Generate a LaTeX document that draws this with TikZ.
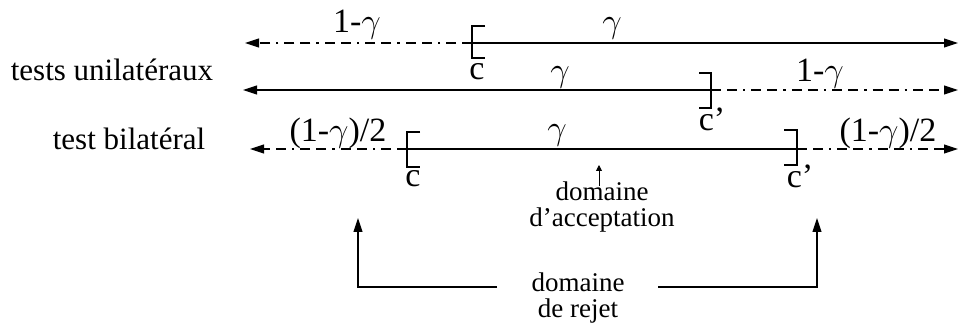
\documentclass[tikz,border=0pt]{standalone}
\usepackage{fontspec}
\setmainfont{Liberation Serif}
\usetikzlibrary{arrows.meta,positioning}
\tikzset{
  ln/.style={line width=0.55pt},
  ar/.style={ln,-{Triangle[length=7pt,width=4.5pt]}},
  dd/.style={ar,dash pattern=on 5pt off 3pt on 5pt off 3pt on 1.2pt off 3pt},
  sar/.style={line width=0.45pt,-{Triangle[length=3pt,width=3pt]}},
  brk/.style={line width=0.55pt},
  lab/.style={font=\fontsize{17}{20}\selectfont,inner sep=0pt,anchor=base},
  side/.style={font=\fontsize{15.5}{18}\selectfont,inner sep=0pt,anchor=base},
  dom/.style={font=\fontsize{13.5}{12.8}\selectfont,align=center,inner sep=0pt}
}
\newcommand\gam{\ensuremath{\gamma}}
\begin{document}
\begin{tikzpicture}[x=0.5pt,y=-0.5pt]
\useasboundingbox (0,0) rectangle (960,326);
% side labels
\node[side] (uni) at (112,81) {tests unilatéraux};
\node[side] (bil) at (129,150) {test bilatéral};
% first line : [c, +infinity)
\coordinate (l1) at (245,43); \coordinate (c1) at (472,43); \coordinate (r1) at (958,43);
\draw[dd] (c1) -- (l1);
\draw[ar] (c1) -- (r1);
\draw[brk] (c1) ++(13,-17) -- ++(-13,0) -- ++(0,32) -- ++(13,0);
\node[lab] (g1a) at (357,33) {1-\gam};
\node[lab] (g1b) at (612,33) {\gam};
\node[lab] (c1l) at (477,80) {c};
% second line : (-infinity, c']
\coordinate (l2) at (243,90); \coordinate (c2) at (711,90); \coordinate (r2) at (958,90);
\draw[ar] (c2) -- (l2);
\draw[dd] (c2) -- (r2);
\draw[brk] (c2) ++(-12,-17) -- ++(12,0) -- ++(0,35) -- ++(-12,0);
\node[lab] (g2a) at (560,82) {\gam};
\node[lab] (g2b) at (820,82) {1-\gam};
\node[lab] (c2l) at (712,131) {c’};
% third line : [c, c']
\coordinate (l3) at (250,149); \coordinate (c3) at (407,149);
\coordinate (d3) at (797,149); \coordinate (r3) at (958,149);
\draw[dd] (c3) -- (l3);
\draw[ln] (c3) -- (d3);
\draw[dd] (d3) -- (r3);
\draw[brk] (c3) ++(13,-17) -- ++(-13,0) -- ++(0,35) -- ++(13,0);
\draw[brk] (d3) ++(-13,-19) -- ++(13,0) -- ++(0,35) -- ++(-13,0);
\node[lab] (g3a) at (338,142) {(1-\gam)/2};
\node[lab] (g3b) at (557,140) {\gam};
\node[lab] (g3c) at (888,142) {(1-\gam)/2};
\node[lab] (c3l) at (413,187) {c};
\node[lab] (d3l) at (800,188) {c’};
% acceptance / rejection
\node[dom] (acc) at (602,207) {domaine\\d’acceptation};
\coordinate (accp) at (599,165);
\draw[sar] ([xshift=-1.5pt,yshift=-2pt]acc.north) -- (accp);
\node[dom] (rej) at (578,298) {domaine\\de rejet};
\coordinate (rl) at (497,287); \coordinate (ltip) at (358,218);
\coordinate (rr) at (658,287); \coordinate (rtip) at (817,218);
\draw[ar] (rl) -| (ltip);
\draw[ar] (rr) -| (rtip);
\end{tikzpicture}
\end{document}
